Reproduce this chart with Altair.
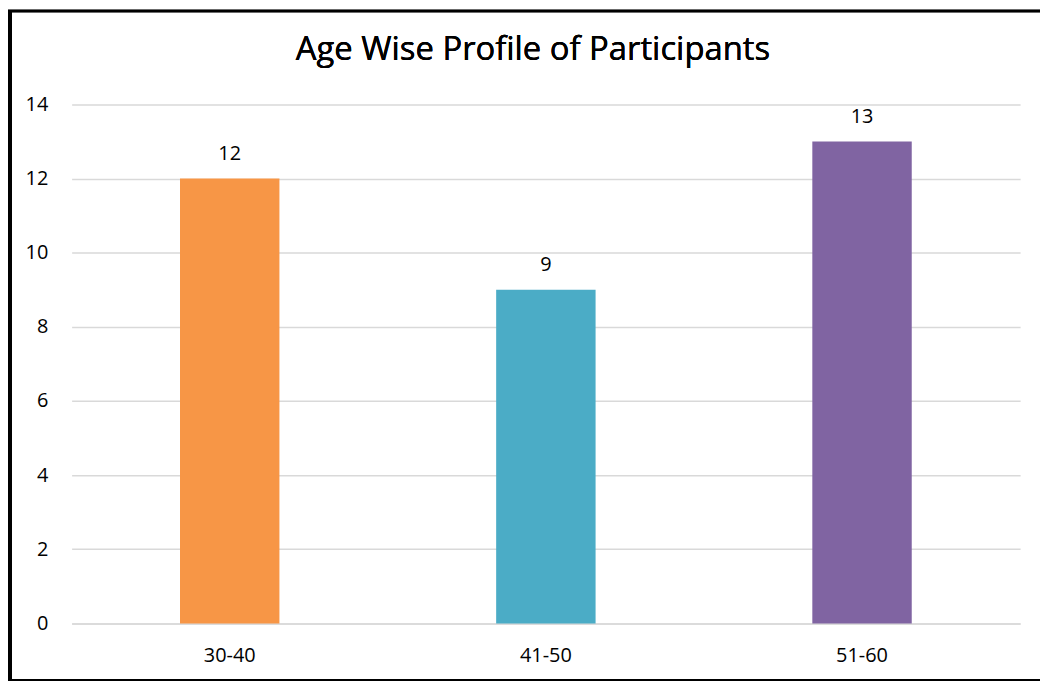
import altair as alt
import pandas as pd

categories = ["30-40", "41-50", "51-60"]
values = [12, 9, 13]
colors = ["#F79646", "#4BACC6", "#8064A2"]

df = pd.DataFrame({"age": categories, "count": values, "color": colors})

W, H = 954, 522
PL, PT, PR, PB = 64, 95, 20, 58
FONT = "Open Sans"

base = alt.Chart(df)

bars = base.mark_bar(size=100).encode(
    x=alt.X("age:N", sort=categories, title=None,
            axis=alt.Axis(labelAngle=0, ticks=False, domain=True, domainColor="#D9D9D9",
                          domainWidth=1.5, labelFontSize=20, labelColor="#000000",
                          labelPadding=22, labelFont=FONT)),
    y=alt.Y("count:Q", scale=alt.Scale(domain=[0, 14]), title=None,
            axis=alt.Axis(values=[0, 2, 4, 6, 8, 10, 12, 14], grid=True, gridColor="#D9D9D9",
                          gridWidth=1.5, domain=False, ticks=False, labelFontSize=20,
                          labelColor="#000000", labelPadding=24, labelFont=FONT)),
    color=alt.Color("color:N", scale=None),
)

labels = base.mark_text(dy=-25, fontSize=20, font=FONT, color="#000000").encode(
    x=alt.X("age:N", sort=categories),
    y="count:Q",
    text="count:Q",
)

title = base.mark_text(fontSize=33, font=FONT, color="#000000", fontWeight="normal").encode(
    x=alt.value(W / 2 - 13),
    y=alt.value(-55),
    text=alt.value("Age Wise Profile of Participants"),
)

left_border = base.mark_rule(color="#000000", strokeWidth=4, clip=False).encode(
    x=alt.value(-PL + 2), y=alt.value(-PT), y2=alt.value(H + PB)
)
top_border = base.mark_rule(color="#000000", strokeWidth=2.5, clip=False).encode(
    x=alt.value(-PL), x2=alt.value(W + PR), y=alt.value(-PT + 1)
)
bottom_border = base.mark_rule(color="#000000", strokeWidth=2, clip=False).encode(
    x=alt.value(-PL), x2=alt.value(W + PR), y=alt.value(H + PB - 1)
)

chart = alt.layer(bars, labels, title, left_border, top_border, bottom_border).properties(
    width=W, height=H,
    autosize=alt.AutoSizeParams(type="none"),
    padding={"left": PL, "top": PT, "right": PR, "bottom": PB},
).configure(background="#FFFFFF").configure_view(stroke=None)

chart.save("out.html", embed_options={"renderer": "svg", "actions": False})
